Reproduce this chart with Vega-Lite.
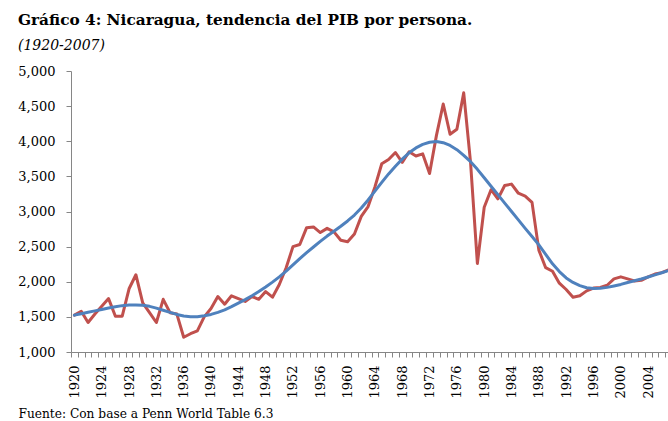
{
  "$schema": "https://vega.github.io/schema/vega-lite/v6.json",
  "autosize": "none",
  "width": 597,
  "height": 281,
  "padding": {"left": 71, "top": 71, "right": 0, "bottom": 69},
  "background": "#ffffff",
  "config": {"view": {"stroke": null}},
  "title": {
    "text": "Gráfico 4: Nicaragua, tendencia del PIB por persona.",
    "subtitle": "(1920-2007)",
    "anchor": "start",
    "frame": "group",
    "dx": -53,
    "offset": 12,
    "font": "DejaVu Serif",
    "fontSize": 15.3,
    "fontWeight": "bold",
    "color": "#000000",
    "subtitleFont": "DejaVu Serif",
    "subtitleFontSize": 14,
    "subtitleFontStyle": "italic",
    "subtitleColor": "#000000",
    "subtitlePadding": 11
  },
  "data": {
    "values": [
      {"year": 1920, "pib": 1525, "tendencia": 1525},
      {"year": 1921, "pib": 1580, "tendencia": 1545},
      {"year": 1922, "pib": 1420, "tendencia": 1565},
      {"year": 1923, "pib": 1540, "tendencia": 1585},
      {"year": 1924, "pib": 1650, "tendencia": 1605},
      {"year": 1925, "pib": 1760, "tendencia": 1625},
      {"year": 1926, "pib": 1510, "tendencia": 1645},
      {"year": 1927, "pib": 1510, "tendencia": 1660},
      {"year": 1928, "pib": 1900, "tendencia": 1668},
      {"year": 1929, "pib": 2100, "tendencia": 1670},
      {"year": 1930, "pib": 1700, "tendencia": 1665},
      {"year": 1931, "pib": 1560, "tendencia": 1650},
      {"year": 1932, "pib": 1420, "tendencia": 1625},
      {"year": 1933, "pib": 1750, "tendencia": 1595},
      {"year": 1934, "pib": 1560, "tendencia": 1565},
      {"year": 1935, "pib": 1540, "tendencia": 1535},
      {"year": 1936, "pib": 1210, "tendencia": 1512},
      {"year": 1937, "pib": 1260, "tendencia": 1502},
      {"year": 1938, "pib": 1300, "tendencia": 1503},
      {"year": 1939, "pib": 1500, "tendencia": 1515},
      {"year": 1940, "pib": 1620, "tendencia": 1535},
      {"year": 1941, "pib": 1790, "tendencia": 1565},
      {"year": 1942, "pib": 1680, "tendencia": 1600},
      {"year": 1943, "pib": 1800, "tendencia": 1645},
      {"year": 1944, "pib": 1760, "tendencia": 1695},
      {"year": 1945, "pib": 1720, "tendencia": 1745},
      {"year": 1946, "pib": 1790, "tendencia": 1800},
      {"year": 1947, "pib": 1750, "tendencia": 1860},
      {"year": 1948, "pib": 1860, "tendencia": 1925},
      {"year": 1949, "pib": 1780, "tendencia": 1995},
      {"year": 1950, "pib": 1960, "tendencia": 2070},
      {"year": 1951, "pib": 2200, "tendencia": 2150},
      {"year": 1952, "pib": 2500, "tendencia": 2240},
      {"year": 1953, "pib": 2530, "tendencia": 2330},
      {"year": 1954, "pib": 2770, "tendencia": 2415},
      {"year": 1955, "pib": 2780, "tendencia": 2495},
      {"year": 1956, "pib": 2700, "tendencia": 2575},
      {"year": 1957, "pib": 2760, "tendencia": 2650},
      {"year": 1958, "pib": 2710, "tendencia": 2720},
      {"year": 1959, "pib": 2590, "tendencia": 2790},
      {"year": 1960, "pib": 2570, "tendencia": 2865},
      {"year": 1961, "pib": 2680, "tendencia": 2950},
      {"year": 1962, "pib": 2930, "tendencia": 3050},
      {"year": 1963, "pib": 3070, "tendencia": 3165},
      {"year": 1964, "pib": 3350, "tendencia": 3290},
      {"year": 1965, "pib": 3680, "tendencia": 3415},
      {"year": 1966, "pib": 3740, "tendencia": 3535},
      {"year": 1967, "pib": 3840, "tendencia": 3645},
      {"year": 1968, "pib": 3700, "tendencia": 3745},
      {"year": 1969, "pib": 3850, "tendencia": 3835},
      {"year": 1970, "pib": 3790, "tendencia": 3905},
      {"year": 1971, "pib": 3820, "tendencia": 3955},
      {"year": 1972, "pib": 3540, "tendencia": 3985},
      {"year": 1973, "pib": 4080, "tendencia": 3995},
      {"year": 1974, "pib": 4530, "tendencia": 3980},
      {"year": 1975, "pib": 4100, "tendencia": 3940},
      {"year": 1976, "pib": 4170, "tendencia": 3880},
      {"year": 1977, "pib": 4690, "tendencia": 3800},
      {"year": 1978, "pib": 3700, "tendencia": 3710},
      {"year": 1979, "pib": 2260, "tendencia": 3600},
      {"year": 1980, "pib": 3060, "tendencia": 3480},
      {"year": 1981, "pib": 3310, "tendencia": 3360},
      {"year": 1982, "pib": 3180, "tendencia": 3240},
      {"year": 1983, "pib": 3370, "tendencia": 3120},
      {"year": 1984, "pib": 3390, "tendencia": 3000},
      {"year": 1985, "pib": 3260, "tendencia": 2880},
      {"year": 1986, "pib": 3220, "tendencia": 2760},
      {"year": 1987, "pib": 3130, "tendencia": 2645},
      {"year": 1988, "pib": 2450, "tendencia": 2525},
      {"year": 1989, "pib": 2200, "tendencia": 2390},
      {"year": 1990, "pib": 2150, "tendencia": 2255},
      {"year": 1991, "pib": 1980, "tendencia": 2145},
      {"year": 1992, "pib": 1890, "tendencia": 2055},
      {"year": 1993, "pib": 1780, "tendencia": 1990},
      {"year": 1994, "pib": 1800, "tendencia": 1945},
      {"year": 1995, "pib": 1870, "tendencia": 1915},
      {"year": 1996, "pib": 1910, "tendencia": 1905},
      {"year": 1997, "pib": 1920, "tendencia": 1908},
      {"year": 1998, "pib": 1950, "tendencia": 1920},
      {"year": 1999, "pib": 2040, "tendencia": 1940},
      {"year": 2000, "pib": 2070, "tendencia": 1962},
      {"year": 2001, "pib": 2040, "tendencia": 1990},
      {"year": 2002, "pib": 2010, "tendencia": 2015},
      {"year": 2003, "pib": 2020, "tendencia": 2040},
      {"year": 2004, "pib": 2070, "tendencia": 2068},
      {"year": 2005, "pib": 2110, "tendencia": 2098},
      {"year": 2006, "pib": 2130, "tendencia": 2128},
      {"year": 2007, "pib": 2170, "tendencia": 2160}
    ]
  },
  "transform": [{"fold": ["pib", "tendencia"], "as": ["serie", "valor"]}],
  "mark": {"type": "line", "strokeWidth": 3, "strokeJoin": "round", "strokeCap": "round", "clip": true},
  "encoding": {
    "x": {
      "field": "year",
      "type": "quantitative",
      "scale": {"domain": [1919.5, 2006.91], "nice": false, "zero": false},
      "axis": {
        "values": [1919.5,1920.5,1921.5,1922.5,1923.5,1924.5,1925.5,1926.5,1927.5,1928.5,1929.5,1930.5,1931.5,1932.5,1933.5,1934.5,1935.5,1936.5,1937.5,1938.5,1939.5,1940.5,1941.5,1942.5,1943.5,1944.5,1945.5,1946.5,1947.5,1948.5,1949.5,1950.5,1951.5,1952.5,1953.5,1954.5,1955.5,1956.5,1957.5,1958.5,1959.5,1960.5,1961.5,1962.5,1963.5,1964.5,1965.5,1966.5,1967.5,1968.5,1969.5,1970.5,1971.5,1972.5,1973.5,1974.5,1975.5,1976.5,1977.5,1978.5,1979.5,1980.5,1981.5,1982.5,1983.5,1984.5,1985.5,1986.5,1987.5,1988.5,1989.5,1990.5,1991.5,1992.5,1993.5,1994.5,1995.5,1996.5,1997.5,1998.5,1999.5,2000.5,2001.5,2002.5,2003.5,2004.5,2005.5,2006.5],
        "labelExpr": "(datum.value + 0.5) % 4 == 0 ? '' + (datum.value + 0.5) : ''",
        "labelOffset": 3.4,
        "labelAngle": 270,
        "labelAlign": "right",
        "labelBaseline": "middle",
        "labelOverlap": false,
        "labelBound": false,
        "labelFlush": false,
        "labelFont": "DejaVu Serif",
        "labelFontSize": 13,
        "labelColor": "#000000",
        "labelPadding": 8,
        "tickSize": 5,
        "tickColor": "#868686",
        "domainColor": "#868686",
        "grid": false,
        "title": "Fuente: Con base a Penn World Table 6.3",
        "titleFont": "DejaVu Serif",
        "titleFontSize": 12.2,
        "titleFontWeight": "normal",
        "titleColor": "#000000",
        "titleAlign": "left",
        "titleBaseline": "top",
        "titleX": -53,
        "titleY": 55
      }
    },
    "y": {
      "field": "valor",
      "type": "quantitative",
      "scale": {"domain": [1000, 5000], "nice": false, "zero": false},
      "axis": {
        "values": [1000, 1500, 2000, 2500, 3000, 3500, 4000, 4500, 5000],
        "format": ",.0f",
        "tickSize": 5,
        "tickColor": "#868686",
        "domainColor": "#868686",
        "labelFont": "DejaVu Serif",
        "labelFontSize": 13,
        "labelColor": "#000000",
        "labelPadding": 11,
        "grid": false,
        "title": null
      }
    },
    "color": {
      "field": "serie",
      "type": "nominal",
      "scale": {"domain": ["pib", "tendencia"], "range": ["#C0504D", "#4F81BD"]},
      "legend": null
    }
  }
}
